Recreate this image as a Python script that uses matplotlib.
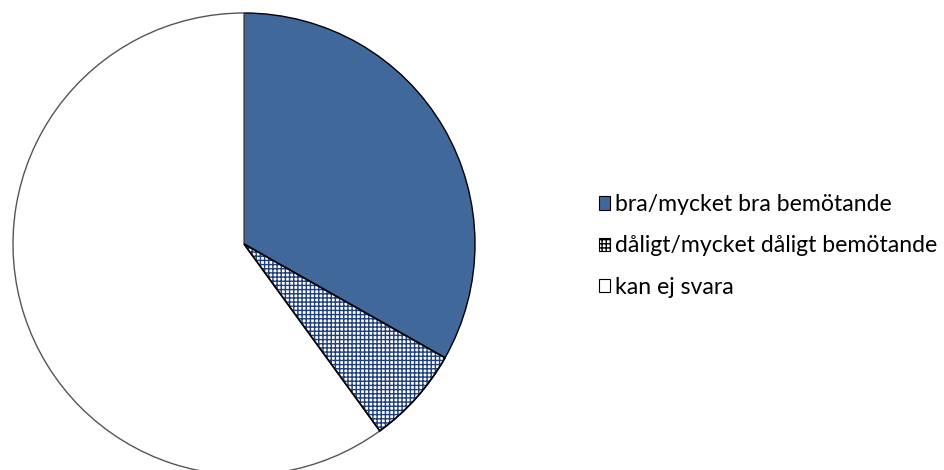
import matplotlib.pyplot as plt
from matplotlib.patches import Wedge

plt.rcParams['font.family'] = ['Lato', 'DejaVu Sans']
plt.rcParams['hatch.linewidth'] = 1.0

labels = ['bra/mycket bra bemötande', 'dåligt/mycket dåligt bemötande', 'kan ej svara']
values = [33.2, 6.8, 60.0]
colors = ['#41689a', 'white', 'white']
hatches = ['', '++++', '']

fig = plt.figure(figsize=(9.45, 4.7), dpi=100)
ax = fig.add_axes([13 / 945, -5 / 470, 462 / 945, 462 / 470])

wedges, _ = ax.pie(values, colors=colors, startangle=90, counterclock=False,
                   radius=1.0, wedgeprops=dict(edgecolor='black', linewidth=1.0))
for w, h in zip(wedges, hatches):
    if h:
        w.set_hatch(h)
        w.set_edgecolor('#1f3f7a')
        # svart kant ovanpå rutmönstret
        ax.add_patch(Wedge(w.center, w.r, w.theta1, w.theta2,
                           fill=False, edgecolor='black', linewidth=1.2))
wedges[2].set_edgecolor('#555555')
ax.set_xlim(-1, 1)
ax.set_ylim(-1, 1)
ax.set_aspect('equal')
ax.axis('off')

leg = fig.legend(wedges, labels, loc='center left', bbox_to_anchor=(587 / 945, 224 / 470),
                 frameon=False, fontsize=16.6, borderpad=0, handlelength=0.5, handleheight=0.5,
                 handletextpad=0.22, labelspacing=0.88)
for lh in leg.legend_handles:
    lh.set_linewidth(0.8)
    lh.set_edgecolor('black')

fig.savefig('out.png', dpi=100)
